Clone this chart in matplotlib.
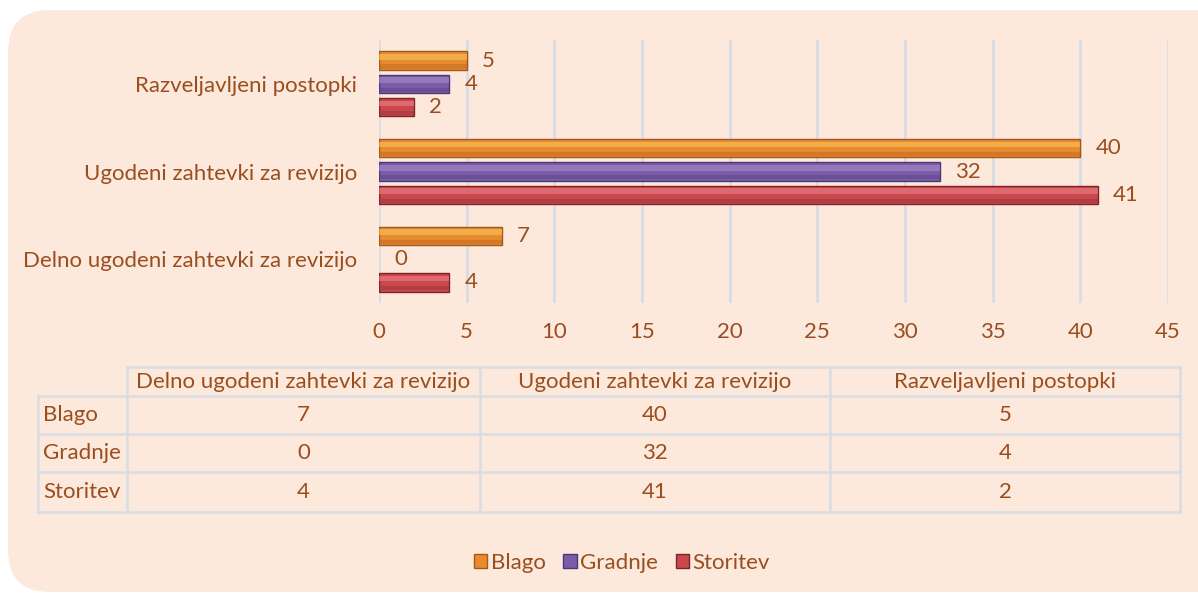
import matplotlib
matplotlib.use("Agg")
import matplotlib.pyplot as plt
from matplotlib.patches import FancyBboxPatch, Patch
from matplotlib.lines import Line2D
import numpy as np

categories = ["Delno ugodeni zahtevki za revizijo", "Ugodeni zahtevki za revizijo", "Razveljavljeni postopki"]
series_names = ["Blago", "Gradnje", "Storitev"]
blago = [7, 40, 5]
gradnje = [0, 32, 4]
storitev = [4, 41, 2]
xticks = [0, 5, 10, 15, 20, 25, 30, 35, 40, 45]

colors = ["#E88A2E", "#7A5CA8", "#C8484E"]
edges = ["#A5561A", "#4E3876", "#7E2428"]
highlights = ["#F7C65A", "#A58CCB", "#EE8086"]
shades = ["#B8641E", "#5A4080", "#98303A"]
txt = "#9A4E20"
gridc = "#D8DCE4"
bgc = "#FCE9DB"
FS = 16

plt.rcParams['font.family'] = ['Lato', 'DejaVu Sans']

W, H = 1198, 594
fig = plt.figure(figsize=(W / 100, H / 100), dpi=100)
fig.patch.set_facecolor("white")

def fx(px):
    return px / W

def fy(py):
    return 1 - py / H

bg = FancyBboxPatch((fx(8), fy(592)), fx(1260) - fx(8), fy(10) - fy(592),
                    boxstyle="round,pad=0,rounding_size=0.035", transform=fig.transFigure,
                    facecolor=bgc, edgecolor="none", zorder=-10, mutation_aspect=W / H)
fig.patches.append(bg)

ax = fig.add_axes([fx(379), fy(303), fx(1168) - fx(379), fy(40) - fy(303)])
ax.set_zorder(1)
ax.set_facecolor("none")
y = np.arange(len(categories))
off = 0.265
h = 0.21
data = [blago, gradnje, storitev]
offsets = [off, 0, -off]
for vals, o, c, e, hl, sh in zip(data, offsets, colors, edges, highlights, shades):
    lws = [1.0 if v > 0 else 0 for v in vals]
    ax.barh(y + o, vals, height=h, color=c, edgecolor=e, linewidth=lws, zorder=3)
    ax.barh(y + o + h * 0.2, vals, height=h * 0.3, color=hl, edgecolor="none", alpha=0.6, zorder=4)
    ax.barh(y + o - h * 0.32, vals, height=h * 0.22, color=sh, edgecolor="none", alpha=0.45, zorder=4)
    for yi, v in zip(y + o, vals):
        ax.annotate(str(v), (v, yi), xytext=(11, 0), textcoords="offset points",
                    ha="left", va="center", fontsize=FS, color=txt, zorder=5)

ax.set_xlim(0, 45)
ax.set_ylim(-0.5, 2.5)
ax.set_xticks(xticks)
ax.set_xticklabels([str(t) for t in xticks])
ax.set_yticks(y)
ax.set_yticklabels(categories)
ax.tick_params(axis="both", length=0, labelsize=FS, labelcolor=txt)
ax.tick_params(axis="x", pad=14)
ax.tick_params(axis="y", pad=16)
ax.grid(axis="x", color=gridc, linewidth=2, zorder=0)
for s in ax.spines.values():
    s.set_visible(False)

# Data table
col_x = [38, 127, 480, 830, 1180]
row_y = [367, 396, 434, 472, 512]
lw = 1.8
fig.add_artist(Line2D([fx(127), fx(1180)], [fy(367), fy(367)], color=gridc, lw=lw, transform=fig.transFigure))
for ry in row_y[1:]:
    fig.add_artist(Line2D([fx(38), fx(1180)], [fy(ry), fy(ry)], color=gridc, lw=lw, transform=fig.transFigure))
fig.add_artist(Line2D([fx(38), fx(38)], [fy(396), fy(512)], color=gridc, lw=lw, transform=fig.transFigure))
for cx in col_x[1:]:
    fig.add_artist(Line2D([fx(cx), fx(cx)], [fy(367), fy(512)], color=gridc, lw=lw, transform=fig.transFigure))

for j, cat in enumerate(categories):
    cxm = (col_x[j + 1] + col_x[j + 2]) / 2
    fig.text(fx(cxm), fy((row_y[0] + row_y[1]) / 2), cat, ha="center", va="center", fontsize=FS, color=txt)
for i, (name, vals) in enumerate(zip(series_names, data)):
    ym = (row_y[i + 1] + row_y[i + 2]) / 2
    fig.text(fx(43), fy(ym), name, ha="left", va="center", fontsize=FS, color=txt)
    for j, v in enumerate(vals):
        cxm = (col_x[j + 1] + col_x[j + 2]) / 2
        fig.text(fx(cxm), fy(ym), str(v), ha="center", va="center", fontsize=FS, color=txt)

handles = [Patch(facecolor=c, edgecolor=e) for c, e in zip(colors, edges)]
leg = fig.legend(handles, series_names, loc="center", bbox_to_anchor=(fx(622), fy(563)), ncol=3,
                 frameon=False, fontsize=FS, handlelength=0.6, handleheight=0.6,
                 handletextpad=0.15, columnspacing=0.8)
for t in leg.get_texts():
    t.set_color(txt)

fig.savefig("out.png", dpi=100, facecolor="white")
